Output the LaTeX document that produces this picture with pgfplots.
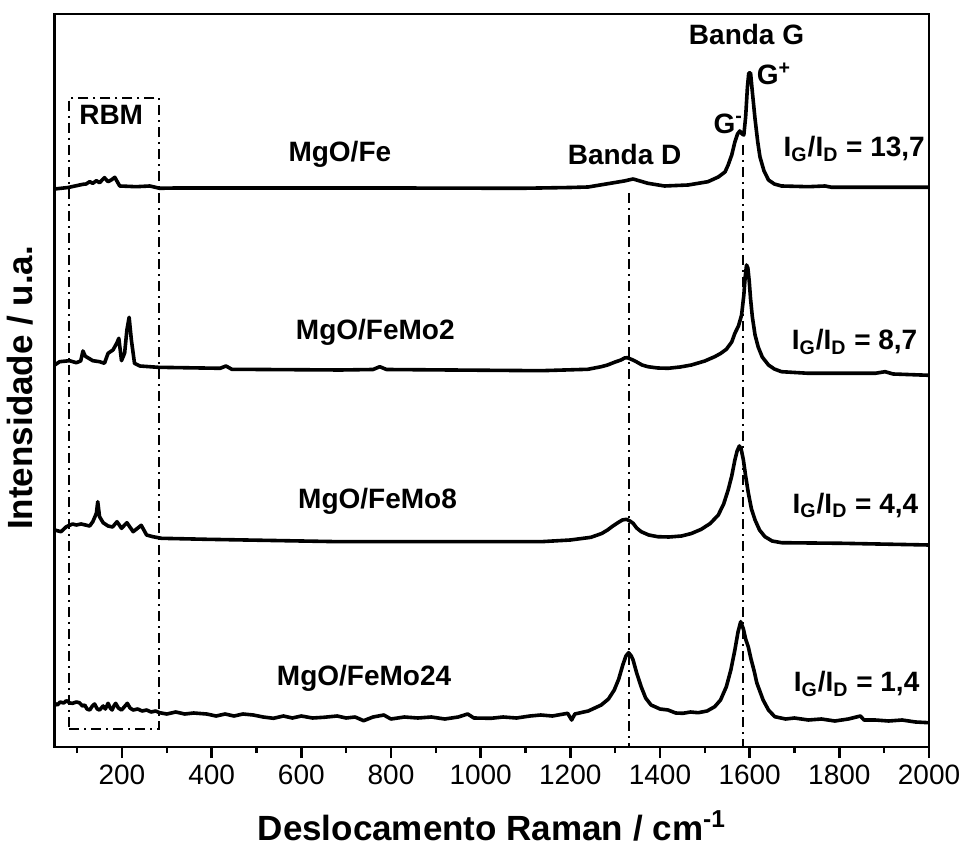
\documentclass[border=0pt]{standalone}
\usepackage{fontspec}
\setmainfont{Liberation Sans}
\usepackage{pgfplots}
\pgfplotsset{compat=1.18}
\begin{document}
\begin{tikzpicture}
\useasboundingbox (-27.35pt,-51.5pt) rectangle (453.15pt,373.5pt);
\begin{axis}[
  width=437.15pt, height=366.5pt, scale only axis,
  xmin=50, xmax=2000, ymin=0, ymax=733,
  xtick={200,400,...,2000}, minor xtick={100,300,...,1900},
  ytick=\empty, xtick pos=left,
  tick align=outside, major tick length=5.5pt, minor tick length=3pt,
  every tick/.style={black, line width=1.2pt},
  axis line style={line width=1.3pt},
  /pgf/number format/assume math mode=true,
  /pgf/number format/set thousands separator={},
  xticklabel style={font=\fontsize{14}{16}\selectfont},
  xlabel={\textbf{Deslocamento Raman / cm\textsuperscript{-1}}},
  ylabel={\textbf{Intensidade / u.a.}},
  xlabel style={font=\fontsize{17.5}{20}\selectfont, at={(axis description cs:0.5,-0.127)}, anchor=base},
  ylabel style={font=\fontsize{17.5}{20}\selectfont, at={(axis description cs:-0.0397,0.49)}, anchor=center},
  clip=false,
]
% MgO/Fe
\addplot[black, line width=1.8pt, line join=round] coordinates {
(50,558) (80,559.5) (113,562.7) (120,563) (128,565.3) (135,563.7) (143,566.3) (150,564.3) (161,569.3) (169,565.3) (176,567) (184,569.7) (195,561) (232,560.3) (262,561) (284,558.7) (320,559) (500,559) (800,559) (1090,558.7) (1200,559.5) (1240,560) (1280,563) (1320,566) (1340,568) (1373,563.7) (1410,561) (1463,562) (1507,565.3) (1530,570) (1545,575) (1552,582) (1560,592) (1567,605) (1573,613) (1578,616) (1583,613) (1587,612) (1591,630) (1595,660) (1598,674) (1602,674) (1606,655) (1612,628) (1618,605) (1623,590) (1632,576) (1642,567) (1655,563) (1671,561) (1731,560.3) (1768,561) (1783,559.7) (2000,559.7)
};
% MgO/FeMo2
\addplot[black, line width=1.8pt, line join=round] coordinates {
(50,382) (61,385.3) (83,386.3) (98,384.3) (108,386) (113,396) (118,391) (120,390.3) (135,386.3) (150,385.3) (161,383.7) (169,393.7) (180,397) (189,404.3) (193,408.7) (199,386.3) (206,394) (211,417) (216,429.7) (221,407) (228,383.7) (240,381) (280,379.7) (419,378.7) (432,381) (445,377.7) (687,377) (760,377.5) (775,380.3) (790,377.5) (1134,376.3) (1239,377.7) (1269,380.3) (1283,382) (1300,385) (1313,387) (1321,389) (1327,389.3) (1337,387.5) (1347,385.3) (1360,382) (1373,380.3) (1395,379) (1418,378.7) (1445,380) (1470,382) (1500,386) (1522,390.3) (1535,393.5) (1548,397.7) (1560,405) (1567,413.7) (1575,421) (1582,432) (1587,452) (1590,470) (1593,482) (1596,479) (1599,466) (1602,448) (1606,430) (1612,412) (1619,400) (1628,390) (1642,382) (1655,378) (1671,375.3) (1731,373.7) (1880,373.7) (1902,375.3) (1920,373) (2000,371.7)
};
% MgO/FeMo8
\addplot[black, line width=1.8pt, line join=round] coordinates {
(50,217) (64,215.3) (76,220.3) (90,223) (98,222) (109,223) (128,221) (135,225.3) (143,233.7) (146,245.3) (150,230.3) (158,224.3) (169,221) (179,220) (189,225.3) (199,218.7) (211,224.3) (225,215.3) (243,221.7) (255,212) (269,210.3) (288,208.7) (389,207.7) (687,205.3) (1134,205.3) (1200,207) (1246,209.7) (1270,213.5) (1283,217) (1295,221) (1306,224.3) (1316,227) (1325,227.7) (1333,226) (1340,223.7) (1348,219) (1358,215.3) (1375,212) (1395,210.3) (1420,210) (1448,211) (1470,213.5) (1492,217.7) (1512,223.5) (1530,232) (1542,243) (1552,257) (1560,271) (1567,287) (1572,296) (1577,301) (1581,298) (1586,287) (1591,271) (1597,254) (1604,238) (1612,227) (1622,217) (1634,210.3) (1650,206) (1671,204.3) (1806,203.7) (2000,202)
};
% MgO/FeMo24
\addplot[black, line width=1.8pt, line join=round] coordinates {
(50,43.7) (56,42) (62,45) (70,44) (76,46.3) (84,44) (90,43.7) (98,45) (105,44.3) (112,41) (117,42) (122,38) (128,37) (134,41) (139,43) (145,38) (150,37) (158,41) (163,38) (169,43.7) (174,39) (178,37) (182,41) (186,43.7) (192,39) (199,37) (205,40) (212,43.7) (218,39) (225,37) (235,38) (245,36) (255,37) (265,35) (275,36) (284,34.3) (300,33) (320,35) (340,33) (360,34) (389,33) (410,31) (430,33) (450,31) (470,33) (493,32) (515,30) (538,28.7) (560,31) (580,29) (600,31) (625,29) (650,29.7) (680,31) (700,29) (720,30) (739,26.3) (760,30) (784,32) (800,28) (830,30) (860,29) (890,30) (920,28) (950,30) (971,33) (985,29) (1023,28.7) (1050,30) (1080,29) (1110,31) (1134,32) (1160,31) (1194,33.7) (1203,27) (1210,33) (1217,33.7) (1240,36) (1269,42) (1285,48) (1298,57) (1308,68) (1317,82) (1324,91) (1330,94.3) (1336,91) (1340,87) (1348,74) (1358,60.3) (1368,49) (1380,42) (1400,38) (1418,37) (1435,34) (1451,33.7) (1468,35) (1485,34.3) (1505,36) (1522,40.3) (1535,47) (1548,60.3) (1558,77) (1567,97) (1574,115) (1580,125.3) (1586,118) (1591,108) (1597,100) (1603,88) (1610,76) (1616,64) (1630,47) (1642,37) (1656,30.3) (1680,28) (1700,29) (1731,27) (1760,28) (1790,26) (1820,28) (1847,31) (1855,27) (1880,27) (1910,26) (1940,27) (1970,25) (2000,24.3)
};
% guide lines
\addplot[black, line width=1pt, dash pattern=on 5pt off 2.5pt on 1pt off 2.5pt] coordinates {(1331,554) (1331,0)};
\addplot[black, line width=1pt, dash pattern=on 5pt off 2.5pt on 1pt off 2.5pt] coordinates {(1586,602) (1586,0)};
\addplot[black, line width=1pt, dash pattern=on 5pt off 2.5pt on 1pt off 2.5pt] coordinates {(82,18) (283,18) (283,649) (82,649) (82,18)};
% labels
\begin{scope}[every node/.style={font=\fontsize{14}{16}\selectfont\bfseries, inner sep=0pt}]
\node[anchor=base] at (axis cs:176,622) {RBM};
\node[anchor=base] at (axis cs:686,585) {MgO/Fe};
\node[anchor=base] at (axis cs:765,407) {MgO/FeMo2};
\node[anchor=base] at (axis cs:770,238.7) {MgO/FeMo8};
\node[anchor=base] at (axis cs:740,62) {MgO/FeMo24};
\node[anchor=base] at (axis cs:1321,582) {Banda D};
\node[anchor=base] at (axis cs:1593,702) {Banda G};
\node[anchor=base west] at (axis cs:1615,662) {G\textsuperscript{+}};
\node[anchor=base west] at (axis cs:1518.6,613.7) {G\textsuperscript{-}};
\node[anchor=base west] at (axis cs:1675,590) {I\textsubscript{G}/I\textsubscript{D} = 13,7};
\node[anchor=base west] at (axis cs:1693,397) {I\textsubscript{G}/I\textsubscript{D} = 8,7};
\node[anchor=base west] at (axis cs:1695,233.7) {I\textsubscript{G}/I\textsubscript{D} = 4,4};
\node[anchor=base west] at (axis cs:1697.5,55.3) {I\textsubscript{G}/I\textsubscript{D} = 1,4};
\end{scope}
\end{axis}
\end{tikzpicture}
\end{document}
